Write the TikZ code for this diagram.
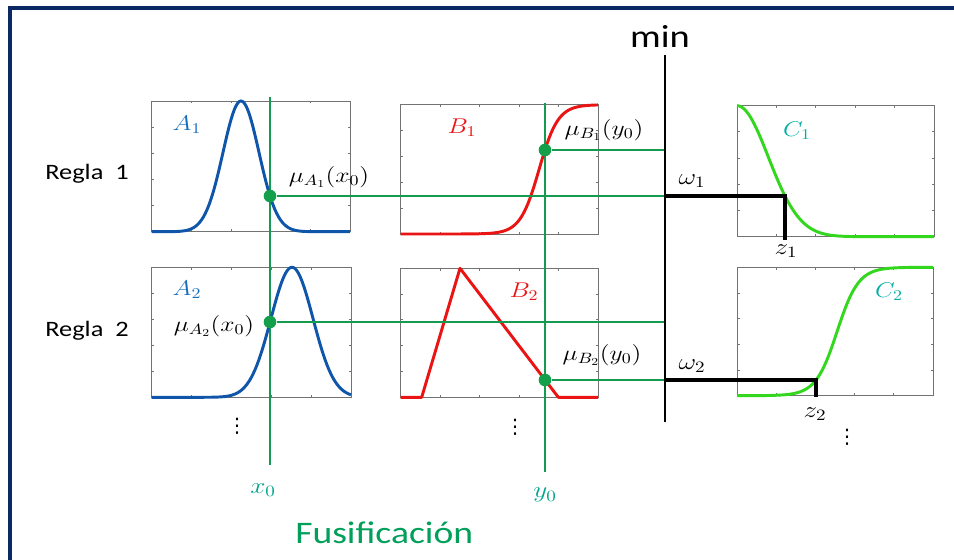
\RequirePackage{fix-cm}
\documentclass[tikz,border=0pt]{standalone}
\usepackage{fontspec}
\usepackage{graphicx}
\newfontfamily\calib[FakeStretch=1.2]{Carlito}
\newfontfamily\dejavu{DejaVu Sans}
\newcommand\wx[1]{\scalebox{1.2}[1]{#1}}
\definecolor{navyframe}{RGB}{10,40,100}
\definecolor{lgreen}{RGB}{20,155,80}
\definecolor{dgreen}{RGB}{20,160,75}
\definecolor{ablue}{RGB}{15,85,170}
\definecolor{alab}{RGB}{20,110,190}
\definecolor{bred}{RGB}{235,20,20}
\definecolor{cgreen}{RGB}{50,215,30}
\definecolor{clab}{RGB}{0,175,165}
\definecolor{xlab}{RGB}{0,165,140}
\definecolor{fus}{RGB}{0,160,90}
\newcommand\mfbox[4]{%
  \draw[boxline] (#1,#2) rectangle (#3,#4);
  \foreach \i in {1,2,3,4}{
    \pgfmathsetmacro\tx{#1+(#3-#1)*\i/5}
    \pgfmathsetmacro\ty{#2+(#4-#2)*\i/5}
    \draw[boxline] (\tx,#2) -- ++(0,2.5) (\tx,#4) -- ++(0,-2.5)
                   (#1,\ty) -- ++(2.5,0) (#3,\ty) -- ++(-2.5,0);
  }%
}
\begin{document}
\begin{tikzpicture}[x=0.75pt,y=-0.75pt,
  boxline/.style={draw=black!55, line width=0.7pt},
  gline/.style={draw=lgreen, line width=1.1pt},
  acurve/.style={draw=ablue, line width=2.2pt},
  bcurve/.style={draw=bred, line width=2.2pt, line join=round},
  ccurve/.style={draw=cgreen, line width=2.2pt},
  wline/.style={draw=black, line width=3pt},
  dot/.style={circle, fill=dgreen, inner sep=0pt, minimum size=9.5pt},
  mlab/.style={inner sep=0pt, font=\fontsize{16}{18}\selectfont},
  blab/.style={inner sep=0pt, font=\fontsize{17}{19}\selectfont},
  slab/.style={inner sep=0pt, font=\calib\fontsize{16.5}{18}\selectfont, anchor=base west},
  vd/.style={inner sep=0pt, font=\dejavu\fontsize{15}{16}\selectfont}]
\useasboundingbox (0,0) rectangle (954,560);
\fill[white] (0,0) rectangle (954,560);
% frame
\draw[navyframe, line width=3pt, line join=miter] (9.5,560) -- (9.5,8) -- (954,8);

% panels
\mfbox{151.7}{101}{350}{231.7}
\mfbox{400.7}{104.7}{598}{234}
\mfbox{737}{105.7}{934}{236.7}
\mfbox{151.7}{267.3}{351}{397.3}
\mfbox{400.7}{268.3}{598}{397.3}
\mfbox{737}{267.3}{933}{395.7}

% coordinates
\coordinate (x0top) at (270,97);
\coordinate (x0bot) at (270,465);
\coordinate (y0top) at (545,103);
\coordinate (y0bot) at (545,472);
\coordinate (mintop) at (665,55);
\coordinate (minbot) at (665,422);
\coordinate (mA1) at (665,196);
\coordinate (mB1) at (665,150);
\coordinate (mA2) at (665,322);
\coordinate (mB2) at (665,380);
\coordinate (z1c) at (785,196);
\coordinate (z1b) at (785,240);
\coordinate (z2c) at (816,380);
\coordinate (z2b) at (816,397);

% green guide lines
\draw[gline] (x0top) -- (x0bot);
\draw[gline] (y0top) -- (y0bot);

% curves
\draw[acurve] plot[domain=151.7:350, samples=150] (\x, {231.7 - 130.7*exp(-0.5*((\x-241)/18)*((\x-241)/18))});
\draw[acurve] plot[domain=151.7:351, samples=150] (\x, {397.3 - 130*exp(-0.5*((\x-292)/21)*((\x-292)/21))});
\draw[bcurve] plot[domain=400.7:598, samples=150] (\x, {234 - 129.3/(1+exp(-max(min((\x-539.1)/9.45,9),-9)))});
\draw[bcurve] (400.7,397.3) -- (421.7,397.3) -- (460,268.3) -- (558.3,397.3) -- (598,397.3);
\draw[ccurve] plot[domain=737:934, samples=150] (\x, {236.7 - 131*exp(-0.5*((\x-737)/31.4)*((\x-737)/31.4))});
\draw[ccurve] plot[domain=737:933, samples=150] (\x, {395.7 - 128.4/(1+exp(-max(min((\x-837.1)/10.7,9),-9)))});

% dots
\node[dot] (dA1) at (270,196) {};
\node[dot] (dB1) at (545,150) {};
\node[dot] (dA2) at (270,322) {};
\node[dot] (dB2) at (545,380) {};

% horizontal lines to min
\draw[gline] (dA1) -- (mA1);
\draw[gline] (dB1) -- (mB1);
\draw[gline] (dA2) -- (mA2);
\draw[gline] (dB2) -- (mB2);

% min line
\draw[black, line width=1.5pt] (mintop) -- (minbot);
\node[inner sep=0pt, font=\calib\fontsize{24}{26}\selectfont] (minlab) at (660,36) {min};

% omega lines
\draw[wline] (mA1) -- (z1c) -- (z1b);
\draw[wline] (mB2) -- (z2c) -- (z2b);

% labels
\node[slab] (r1) at (45,180) {Regla\ \ 1};
\node[slab] (r2) at (45,336) {Regla\ \ 2};
\node[mlab, text=alab] (lA1) at (187,125) {\wx{$A_1$}};
\node[mlab, text=alab] (lA2) at (187,290) {\wx{$A_2$}};
\node[mlab, text=bred] (lB1) at (462,128) {\wx{$B_1$}};
\node[mlab, text=bred] (lB2) at (524,292) {\wx{$B_2$}};
\node[mlab, text=clab] (lC1) at (797,131) {\wx{$C_1$}};
\node[mlab, text=clab] (lC2) at (889,292) {\wx{$C_2$}};
\node[mlab] (muA1) at (329,177) {\wx{$\mu_{A_1}(x_0)$}};
\node[mlab] (muA2) at (214,326) {\wx{$\mu_{A_2}(x_0)$}};
\node[mlab] (muB1) at (604,130) {\wx{$\mu_{B_1}(y_0)$}};
\node[mlab] (muB2) at (602,355) {\wx{$\mu_{B_2}(y_0)$}};
\node[blab] (w1) at (692,181) {\wx{$\omega_1$}};
\node[blab] (w2) at (692,366) {\wx{$\omega_2$}};
\node[blab] (z1) at (786,251) {\wx{$z_1$}};
\node[blab] (z2) at (815,414) {\wx{$z_2$}};
\node[blab, text=xlab] (x0) at (263,490) {\wx{$x_0$}};
\node[blab, text=xlab] (y0) at (545,495) {\wx{$y_0$}};
\node[inner sep=0pt, anchor=base west, text=fus, font=\calib\fontsize{23.5}{25}\selectfont] (fusif) at (295,543) {Fusificación};
\node[vd] (vdA) at (237,426) {⋮};
\node[vd] (vdB) at (515,427) {⋮};
\node[vd] (vdC) at (847,437) {⋮};
\end{tikzpicture}
\end{document}
